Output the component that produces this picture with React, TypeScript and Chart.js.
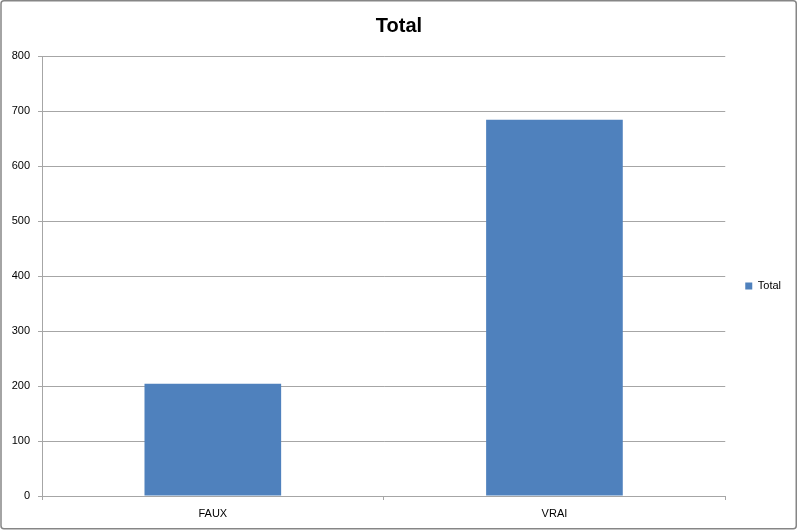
import React, { useEffect, useRef } from "react";
import { Chart, registerables } from "chart.js";

Chart.register(...registerables);

const chartTitle = "Total";
const categories = ["FAUX", "VRAI"];
const seriesLabel = "Total";
const seriesValues = [204, 684];
const yMin = 0;
const yMax = 800;
const yStep = 100;

const FONT = "'Liberation Sans', Arial, sans-serif";
const GRID = "#a6a6a6";

const frame = {
  id: "frame",
  beforeDraw(chart: any) {
    const { ctx, width, height } = chart;
    ctx.save();
    ctx.fillStyle = "#ffffff";
    ctx.fillRect(0, 0, width, height);
    ctx.restore();
  },
  afterDraw(chart: any) {
    const { ctx, width, height } = chart;
    ctx.save();
    ctx.strokeStyle = "#868686";
    ctx.lineWidth = 1.5;
    ctx.beginPath();
    const x0 = 1, y0 = 0.75, x1 = width - 1.75, y1 = height - 1.25, r = 3;
    ctx.moveTo(x0 + r, y0);
    ctx.lineTo(x1 - r, y0);
    ctx.quadraticCurveTo(x1, y0, x1, y0 + r);
    ctx.lineTo(x1, y1 - r);
    ctx.quadraticCurveTo(x1, y1, x1 - r, y1);
    ctx.lineTo(x0 + r, y1);
    ctx.quadraticCurveTo(x0, y1, x0, y1 - r);
    ctx.lineTo(x0, y0 + r);
    ctx.quadraticCurveTo(x0, y0, x0 + r, y0);
    ctx.stroke();
    ctx.restore();
  },
};

export default function App() {
  const ref = useRef<HTMLCanvasElement | null>(null);

  useEffect(() => {
    if (!ref.current) return;
    const chart = new Chart(ref.current, {
      type: "bar",
      data: {
        labels: categories,
        datasets: [
          {
            label: seriesLabel,
            data: seriesValues,
            backgroundColor: "#4f81bd",
            borderWidth: 0,
            barPercentage: 0.4,
            categoryPercentage: 1,
          },
        ],
      },
      options: {
        animation: false,
        responsive: false,
        maintainAspectRatio: false,
        layout: { padding: { left: 7, right: 7, top: 0, bottom: 0 } },
        plugins: {
          title: {
            display: true,
            text: chartTitle,
            color: "#000000",
            font: { family: FONT, size: 20, weight: "bold" },
            padding: { top: 14, bottom: 18 },
          },
          legend: {
            display: true,
            position: "right",
            fullSize: false,
            maxWidth: 73,
            title: {
              display: true,
              text: " ",
              font: { family: FONT, size: 10 },
              padding: { top: 4, bottom: 4 },
            },
            labels: {
              boxWidth: 7,
              boxHeight: 7,
              padding: 20,
              color: "#000000",
              font: { family: FONT, size: 11 },
            },
          },
          tooltip: { enabled: false },
        },
        scales: {
          x: {
            offset: true,
            grid: {
              offset: true,
              drawOnChartArea: false,
              drawTicks: true,
              tickLength: 4,
              color: GRID,
            },
            border: { display: true, color: GRID, width: 1 },
            ticks: {
              color: "#000000",
              padding: 7,
              font: { family: FONT, size: 11 },
              maxRotation: 0,
            },
            afterFit(scale: any) {
              scale.height = 34;
            },
          },
          y: {
            min: yMin,
            max: yMax,
            grid: {
              color: GRID,
              drawTicks: true,
              tickLength: 4,
            },
            border: { display: true, color: GRID, width: 1 },
            ticks: {
              stepSize: yStep,
              color: "#000000",
              padding: 8,
              font: { family: FONT, size: 11 },
            },
            afterFit(scale: any) {
              scale.width = 35;
            },
          },
        },
      },
      plugins: [frame],
    });
    return () => chart.destroy();
  }, []);

  return (
    <div style={{ position: "absolute", left: 0, top: 0, width: 798, height: 530 }}>
      <canvas ref={ref} width={798} height={530} style={{ display: "block", width: 798, height: 530 }} />
    </div>
  );
}
